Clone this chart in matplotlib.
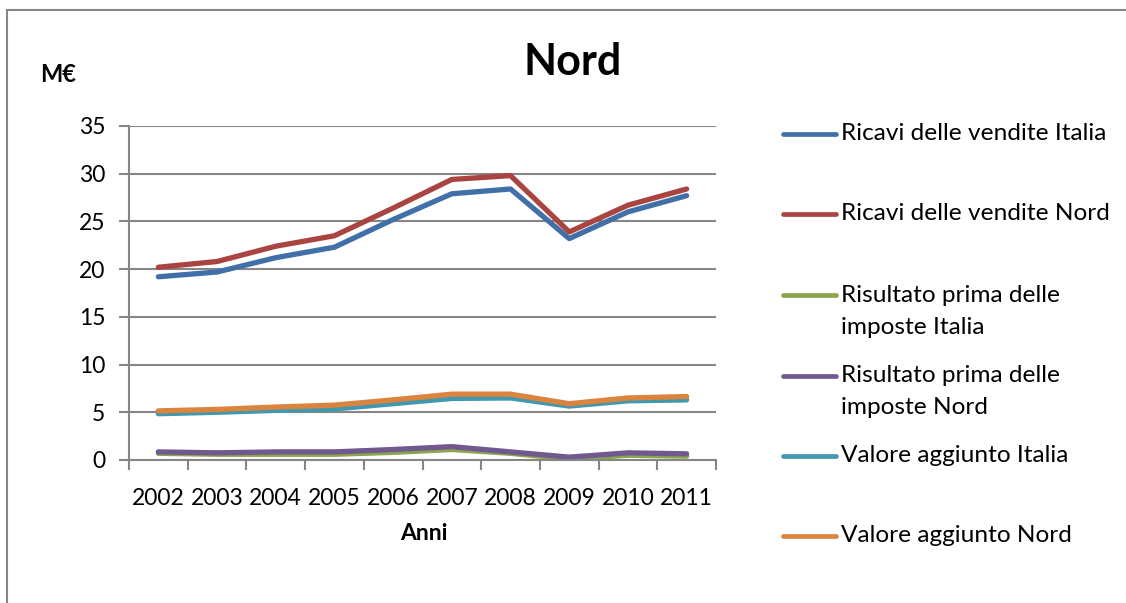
import numpy as np
import matplotlib
matplotlib.use("Agg")
import matplotlib.pyplot as plt
from matplotlib.lines import Line2D
from matplotlib.patches import Rectangle

plt.rcParams['font.family'] = ['Lato', 'DejaVu Sans']

anni = ['2002', '2003', '2004', '2005', '2006', '2007', '2008', '2009', '2010', '2011']

ricavi_italia = [19.2, 19.7, 21.2, 22.3, 25.2, 27.9, 28.4, 23.2, 26.0, 27.7]
ricavi_nord = [20.2, 20.8, 22.4, 23.5, 26.4, 29.4, 29.8, 23.9, 26.7, 28.4]
risultato_italia = [0.7, 0.6, 0.6, 0.6, 0.8, 1.1, 0.7, 0.1, 0.5, 0.4]
risultato_nord = [0.85, 0.75, 0.85, 0.85, 1.1, 1.4, 0.85, 0.3, 0.75, 0.65]
valore_italia = [4.85, 5.0, 5.2, 5.35, 5.9, 6.45, 6.5, 5.65, 6.2, 6.3]
valore_nord = [5.15, 5.3, 5.55, 5.75, 6.3, 6.9, 6.9, 5.9, 6.5, 6.65]

serie = [
    ("Ricavi delle vendite Italia", ricavi_italia, "#4170A8"),
    ("Ricavi delle vendite Nord", ricavi_nord, "#AA4441"),
    ("Risultato prima delle\nimposte Italia", risultato_italia, "#89A54E"),
    ("Risultato prima delle\nimposte Nord", risultato_nord, "#71588F"),
    ("Valore aggiunto Italia", valore_italia, "#4198AF"),
    ("Valore aggiunto Nord", valore_nord, "#DB843D"),
]

W, H = 1126, 603
fig = plt.figure(figsize=(W / 100, H / 100), dpi=100)
grigio = "#868686"


def fx(px):
    return px / W


def fy(py):
    return 1 - py / H


# cornice del grafico
fig.add_artist(Rectangle((fx(7), fy(700)), fx(1300), fy(10) - fy(700),
                         transform=fig.transFigure, fill=False,
                         edgecolor=grigio, lw=1.5))

ax = fig.add_axes([fx(129), fy(460), fx(716) - fx(129), fy(126) - fy(460)])

x = np.arange(len(anni))
for nome, valori, colore in serie:
    ax.plot(x, valori, color=colore, lw=3.8, solid_capstyle='round',
            solid_joinstyle='round')

ax.set_xlim(-0.5, len(anni) - 0.5)
ax.set_ylim(0, 35)
ax.set_yticks(np.arange(0, 36, 5))
ax.yaxis.grid(True, color=grigio, lw=1.5)
ax.set_axisbelow(True)

ax.set_xticks(np.arange(-0.5, len(anni), 1))
ax.set_xticklabels([])
ax.set_xticks(x, minor=True)
ax.set_xticklabels(anni, minor=True)
ax.tick_params(axis='x', which='minor', length=0, pad=20, labelsize=16.5)
ax.tick_params(axis='x', which='major', length=7, width=1.5, color=grigio)
ax.tick_params(axis='y', length=7, width=1.5, color=grigio, labelsize=16.5, pad=10)

for s in ['top', 'right']:
    ax.spines[s].set_visible(False)
for s in ['left', 'bottom']:
    ax.spines[s].set_color(grigio)
    ax.spines[s].set_linewidth(1.5)

fig.text(fx(573), fy(62), "Nord", fontsize=31, fontweight='bold',
         ha='center', va='center')
fig.text(fx(40), fy(74), "M€", fontsize=17, fontweight='bold',
         ha='left', va='center')
fig.text(fx(424), fy(534), "Anni", fontsize=16.5, fontweight='bold',
         ha='center', va='center')

# legenda
legenda_y = [134, 214, 295, 376, 456, 536]
for (nome, valori, colore), ly in zip(serie, legenda_y):
    fig.add_artist(Line2D([fx(783), fx(836)], [fy(ly), fy(ly)],
                          transform=fig.transFigure, color=colore, lw=3.4,
                          solid_capstyle='round'))
    for i, riga in enumerate(nome.split("\n")):
        fig.text(fx(841), fy(ly + 32 * i), riga, fontsize=17.6,
                 ha='left', va='center')

fig.savefig("out.png", dpi=100)
